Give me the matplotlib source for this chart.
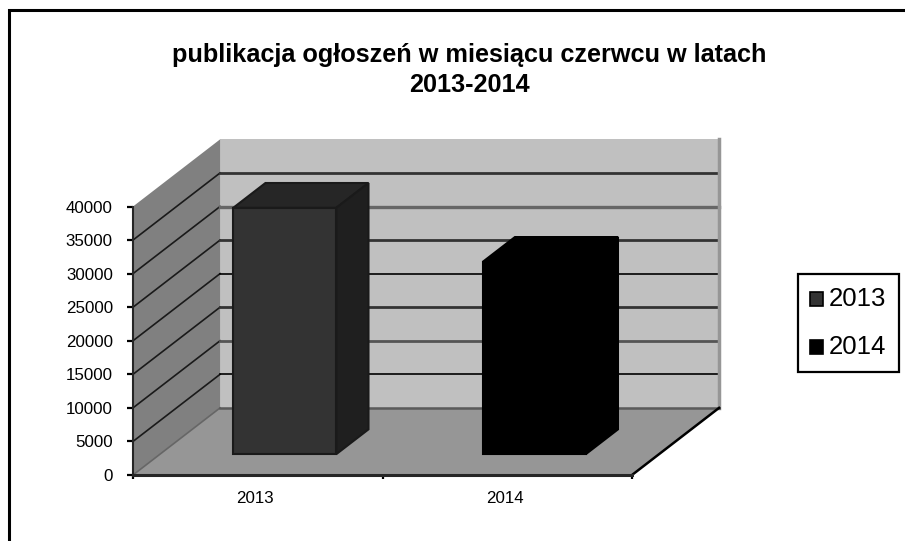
import matplotlib
matplotlib.use('Agg')
import matplotlib.pyplot as plt
from matplotlib.lines import Line2D
from matplotlib.patches import Rectangle
from matplotlib.ticker import MultipleLocator, NullFormatter

title_lines = ['publikacja ogłoszeń w miesiącu czerwcu w latach', '2013-2014']
categories = ['2013', '2014']
values = [36700, 28650]
y_ticks = [0, 5000, 10000, 15000, 20000, 25000, 30000, 35000, 40000]

W, H = 905, 541
plt.rcParams['font.family'] = ['Liberation Sans', 'DejaVu Sans']

fig = plt.figure(figsize=(W / 100, H / 100), dpi=100)
# obszar osi = przednia krawedz wykresu 3D
ax = fig.add_axes([133 / W, 1 - 475 / H, (632 - 133) / W, (475 - 206.5) / H])
ax.set_xlim(0, 2)
ax.set_ylim(0, 40000)

# przesuniecie glebi (pelna glebokosc wykresu) w jednostkach danych
depth_x = 0.349
depth_y = 10000


def proj(x, y, d):
    return x + depth_x * d, y + depth_y * d


def face(pts, **kw):
    xs, ys = zip(*[proj(*p) for p in pts])
    ax.fill(xs, ys, clip_on=False, **kw)


# sciany
face([(0, 0, 1), (2, 0, 1), (2, 40000, 1), (0, 40000, 1)], fc='#c0c0c0', ec='none', zorder=1)
face([(0, 0, 0), (0, 0, 1), (0, 40000, 1), (0, 40000, 0)], fc='#808080', ec='none', zorder=1)
face([(0, 0, 0), (2, 0, 0), (2, 0, 1), (0, 0, 1)], fc='#969696', ec='none', zorder=2)
# prawa krawedz tylnej sciany
ax.plot(*zip(proj(2, 0, 1), proj(2, 40000, 1)), color='#969696', lw=2.5, clip_on=False, zorder=2)

# siatka - po zmniejszeniu obrazka linie maja rozna grubosc
grid_cols = ['#000000', '#555555', '#333333', '#000000', '#333333', '#666666', '#333333']
grid_lws = [1.2, 2.0, 2.0, 1.2, 2.0, 2.4, 2.0]
for v, c, lw in zip(y_ticks[1:-1], grid_cols, grid_lws):
    ax.plot(*zip(proj(0, v, 0), proj(0, v, 1)), color='#1a1a1a', lw=1.2, clip_on=False, zorder=1.5)
    ax.plot(*zip(proj(0, v, 1), proj(2, v, 1)), color=c, lw=lw, clip_on=False, zorder=1.5)
ax.plot(*zip(proj(0, 0, 0), proj(0, 0, 1)), color='#666666', lw=1.2, clip_on=False, zorder=2.5)
ax.plot(*zip(proj(0, 0, 1), proj(2, 0, 1)), color='#5a5a5a', lw=1.8, clip_on=False, zorder=2.5)
ax.plot(*zip(proj(2, 0, 0), proj(2, 0, 1)), color='black', lw=1.8, clip_on=False, zorder=3)

# slupki
bar_w = 0.413
d0, d1 = 0.31, 0.68
bar_cols = [('#333333', '#262626', '#1f1f1f', '#1a1a1a'), ('black', 'black', 'black', 'black')]
for i, (val, cols) in enumerate(zip(values, bar_cols)):
    x0 = i + 0.5 - bar_w / 2
    x1 = x0 + bar_w
    front, top, side, edge = cols
    kw = dict(ec=edge, lw=1.5, joinstyle='miter', zorder=4)
    face([(x0, val, d0), (x1, val, d0), (x1, val, d1), (x0, val, d1)], fc=top, **kw)
    face([(x1, 0, d0), (x1, 0, d1), (x1, val, d1), (x1, val, d0)], fc=side, **kw)
    face([(x0, 0, d0), (x1, 0, d0), (x1, val, d0), (x0, val, d0)], fc=front, **kw)

for s in ['top', 'right']:
    ax.spines[s].set_visible(False)
ax.spines['left'].set_linewidth(1.5)
ax.spines['bottom'].set_linewidth(2.2)
for s in ['left', 'bottom']:
    ax.spines[s].set_color('#262626')
    ax.spines[s].set_zorder(5)

ax.set_yticks(y_ticks)
ax.set_yticklabels([str(v) for v in y_ticks])
ax.xaxis.set_major_locator(MultipleLocator(1))
ax.xaxis.set_major_formatter(NullFormatter())
ax.tick_params(axis='y', length=4.5, width=1.6, pad=10, labelsize=12.2, direction='out')
ax.tick_params(axis='x', length=3, width=1.6, direction='out')
for i, c in enumerate(categories):
    ax.text(i + 0.49, -3430, c, ha='center', va='center', fontsize=12.2, clip_on=False)

# tytul
for line, yc in zip(title_lines, [55, 85]):
    fig.text(469 / W, 1 - yc / H, line, ha='center', va='center', fontsize=18.2, fontweight='bold')

# legenda
leg_x0, leg_x1, leg_y0, leg_y1 = 798, 899, 274, 372
fig.add_artist(Rectangle((leg_x0 / W, 1 - leg_y1 / H), (leg_x1 - leg_x0) / W, (leg_y1 - leg_y0) / H,
                         fc='white', ec='black', lw=1.6, transform=fig.transFigure))
for cat, cols, yc in zip(categories, bar_cols, [299, 347]):
    fig.add_artist(Rectangle((810 / W, 1 - (yc + 7) / H), 13 / W, 14 / H, fc=cols[0], ec='black',
                             lw=1.2, transform=fig.transFigure))
    fig.text(829 / W, 1 - yc / H, cat, ha='left', va='center', fontsize=18.5)

# ramka: lewa i gorna krawedz, prawej i dolnej nie widac
fig.add_artist(Line2D([8.5 / W, 8.5 / W, 1], [0, 1 - 9.5 / H, 1 - 9.5 / H], color='black', lw=2.2,
                      solid_joinstyle='miter', transform=fig.transFigure))

fig.savefig('out.png', dpi=100)
